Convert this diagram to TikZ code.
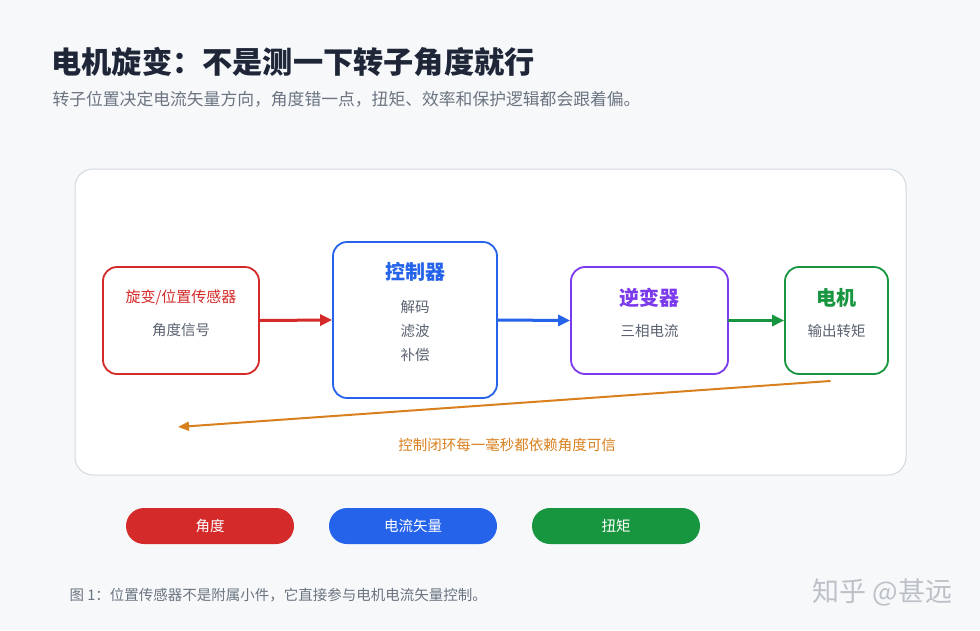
\documentclass[tikz,border=0pt]{standalone}
\usepackage{fontspec}
\setmainfont{Noto Sans CJK SC}
\usetikzlibrary{arrows.meta,positioning}
\definecolor{bg}{HTML}{F6F8FA}
\definecolor{panelline}{HTML}{D3D9E0}
\definecolor{ink}{HTML}{1E2638}
\definecolor{muted}{HTML}{6B7480}
\definecolor{bodytxt}{HTML}{5A6270}
\definecolor{sensred}{HTML}{D42A2A}
\definecolor{ctrlblue}{HTML}{2563EB}
\definecolor{invpurple}{HTML}{7C3AED}
\definecolor{motgreen}{HTML}{17953F}
\definecolor{loopcol}{HTML}{D9801E}
\definecolor{markgray}{HTML}{BCC1C7}

\begin{document}
\begin{tikzpicture}[x=1pt,y=-1pt,line join=round,line cap=round,
  blk/.style={draw,fill=white,line width=1.8pt,rounded corners=14pt,inner sep=0pt},
  ttl/.style={font=\fontsize{15}{18}\selectfont},
  hd/.style={font=\fontsize{20}{24}\selectfont\bfseries},
  txt/.style={font=\fontsize{14.5}{18}\selectfont,text=bodytxt},
  flow/.style={-{Triangle[length=12pt,width=11pt]},line width=3pt},
  pill/.style={fill=#1,rounded corners=18pt,minimum width=168pt,minimum height=36pt,inner sep=0pt,
    text=white,font=\fontsize{14.5}{18}\selectfont}]
  \fill[bg] (0,0) rectangle (980,630);

  % ===== heading =====
  \node[anchor=west,text=ink,font=\fontsize{30.2}{34}\selectfont\bfseries] (title) at (48,62) {电机旋变：不是测一下转子角度就行};
  \node[anchor=west,text=muted,font=\fontsize{16.8}{20}\selectfont] (sub) at (49,99) {转子位置决定电流矢量方向，角度错一点，扭矩、效率和保护逻辑都会跟着偏。};

  % ===== panel =====
  \draw[panelline,fill=white,line width=1pt,rounded corners=18pt] (75,169) rectangle (906,475);

  % ===== blocks =====
  \node[blk,draw=sensred,minimum width=156pt,minimum height=107pt] (sens) at (181,320.5) {};
  \node[ttl,text=sensred] (sensT) at ([yshift=23pt]sens.center) {旋变/位置传感器};
  \node[txt] (sensB) at ([yshift=-10pt]sens.center) {角度信号};

  \node[blk,draw=ctrlblue,minimum width=164pt,minimum height=156pt] (ctrl) at (415,320) {};
  \node[hd,text=ctrlblue] (ctrlT) at ([yshift=48pt]ctrl.center) {控制器};
  \node[txt] (ctrl1) at ([yshift=13pt]ctrl.center) {解码};
  \node[txt] (ctrl2) at ([yshift=-11pt]ctrl.center) {滤波};
  \node[txt] (ctrl3) at ([yshift=-35pt]ctrl.center) {补偿};

  \node[blk,draw=invpurple,minimum width=157pt,minimum height=107pt] (inv) at (649.5,320.5) {};
  \node[hd,text=invpurple] (invT) at ([yshift=23pt]inv.center) {逆变器};
  \node[txt] (invB) at ([yshift=-10pt]inv.center) {三相电流};

  \node[blk,draw=motgreen,minimum width=103pt,minimum height=107pt] (mot) at (836.5,320.5) {};
  \node[hd,text=motgreen] (motT) at ([yshift=23pt]mot.center) {电机};
  \node[txt] (motB) at ([yshift=-10pt]mot.center) {输出转矩};

  % ===== signal path =====
  \draw[flow,sensred] (sens.east) -- (ctrl.west);
  \draw[flow,ctrlblue] (ctrl.east) -- (inv.west);
  \draw[flow,motgreen] (inv.east) -- (mot.west);

  % ===== feedback loop =====
  \coordinate (fbA) at (830,381);
  \coordinate (fbB) at (178,427);
  \draw[loopcol,line width=2pt,-{Triangle[length=11pt,width=9pt]}] (fbA) -- (fbB);
  \node[text=loopcol,font=\fontsize{14.5}{18}\selectfont] (fbL) at (507,445) {控制闭环每一毫秒都依赖角度可信};

  % ===== tags =====
  \node[pill=sensred] (tagA) at (210,526) {角度};
  \node[pill=ctrlblue] (tagB) at (413,526) {电流矢量};
  \node[pill=motgreen] (tagC) at (616,526) {扭矩};

  % ===== caption =====
  \node[anchor=west,text=muted,font=\fontsize{14.5}{18}\selectfont] (cap) at (66,595) {图 1：位置传感器不是附属小件，它直接参与电机电流矢量控制。};
  \node[anchor=east,text=markgray,font=\fontsize{27}{30}\selectfont] (wm) at (956,592) {知乎 @甚远};
\end{tikzpicture}
\end{document}
